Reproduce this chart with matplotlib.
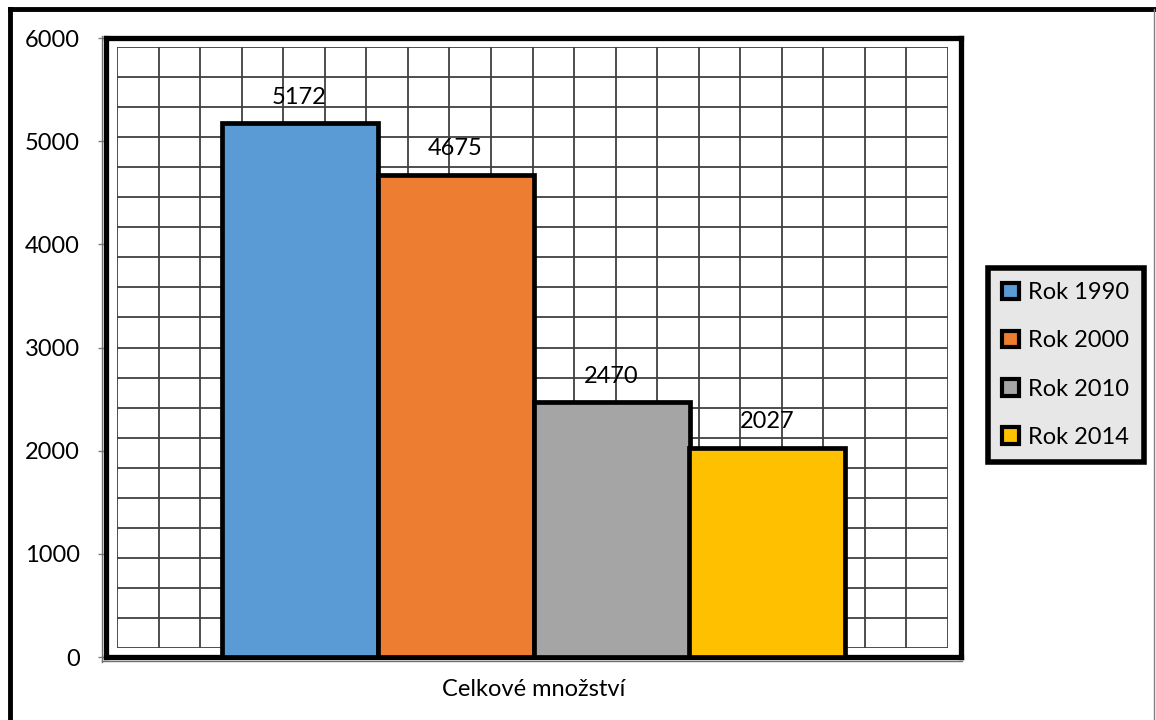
import matplotlib.pyplot as plt
from matplotlib.patches import Patch
from matplotlib.lines import Line2D

years = ["Rok 1990", "Rok 2000", "Rok 2010", "Rok 2014"]
values = [5172, 4675, 2470, 2027]
colors = ["#5b9bd5", "#ed7d31", "#a5a5a5", "#ffc000"]
category = "Celkové množství"
yticks = [0, 1000, 2000, 3000, 4000, 5000, 6000]

plt.rcParams.update({'font.family': ['Lato', 'DejaVu Sans'], 'font.size': 17})

W, H = 1156, 720
fig = plt.figure(figsize=(W / 100, H / 100), dpi=100)

def fx(px):
    return px / W

def fy(py):
    return 1 - py / H

# outer frame of the whole chart (left/top heavy, right thin)
fig.add_artist(Line2D([fx(10), fx(10)], [0, fy(9)], color='black', lw=3.5))
fig.add_artist(Line2D([fx(10), fx(1154)], [fy(9), fy(9)], color='black', lw=3.5))
fig.add_artist(Line2D([fx(1154), fx(1154)], [0, fy(9)], color='#808080', lw=1))

# square grid pattern behind the plot
bg = fig.add_axes([fx(117), fy(648), fx(948) - fx(117), fy(47) - fy(648)])
bg.set_xlim(0, 20)
bg.set_ylim(0, 20)
for i in range(21):
    bg.axvline(i, color='#404040', lw=1.3)
    bg.axhline(i, color='#404040', lw=1.3)
bg.axis('off')
bg.set_zorder(0)

ax = fig.add_axes([fx(106), fy(657), fx(961) - fx(106), fy(38) - fy(657)])
ax.set_zorder(1)
ax.patch.set_alpha(0)

bar_w = 156 / 855
n = len(values)
x0 = 0.5 - bar_w * n / 2
for i, (v, c) in enumerate(zip(values, colors)):
    xc = x0 + bar_w * (i + 0.5)
    ax.bar(xc, v, width=bar_w, color=c, edgecolor='black', linewidth=3.4, zorder=3)
    ax.text(xc, v + 150, str(v), ha='center', va='bottom', fontsize=17)

ax.set_xlim(0, 1)
ax.set_ylim(0, 6000)
ax.set_yticks(yticks)
ax.set_xticks([])
ax.tick_params(axis='y', length=6, width=1, color='#808080', pad=13, labelsize=17)
for s in ax.spines.values():
    s.set_linewidth(3.8)
    s.set_color('black')
ax.set_xlabel(category, fontsize=17, labelpad=16)

# thin axis lines just outside the heavy frame
fig.add_artist(Line2D([fx(102), fx(102)], [fy(662), fy(36)], color='#707070', lw=1))
fig.add_artist(Line2D([fx(102), fx(962)], [fy(661), fy(661)], color='#707070', lw=1))

handles = [Patch(facecolor=c, edgecolor='black', linewidth=3) for c in colors]
leg = fig.legend(handles, years, loc='center', bbox_to_anchor=(fx(1066), fy(365)),
                 fontsize=17, handlelength=0.7, handleheight=0.7, handletextpad=0.4,
                 labelspacing=1.15, borderpad=0.6, fancybox=False, framealpha=1)
leg.get_frame().set_facecolor('#e7e7e7')
leg.get_frame().set_edgecolor('black')
leg.get_frame().set_linewidth(4)

plt.savefig('out.png', dpi=100)
